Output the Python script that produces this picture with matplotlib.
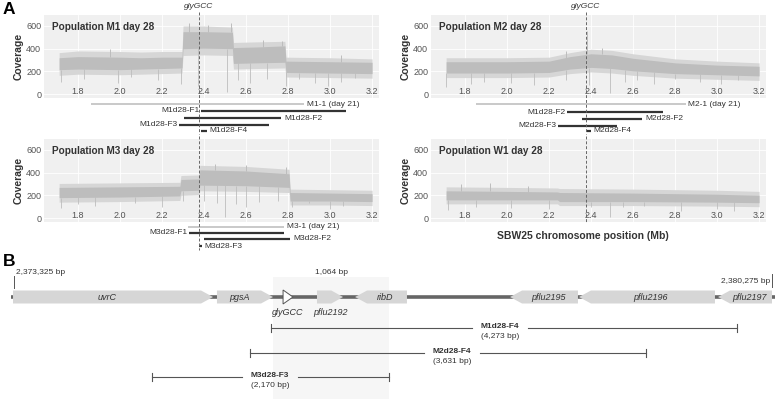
import matplotlib.pyplot as plt
import matplotlib.transforms as mtransforms
import numpy as np
from matplotlib.patches import Polygon, Rectangle

plt.rcParams["font.family"] = ["Liberation Sans", "DejaVu Sans"]

# ---- panel A: coverage (Mb, coverage) ----
# core = dense part of the trace, out = fuzzy fringe
m1_pos = [1.71, 1.80, 2.00, 2.10, 2.20, 2.295, 2.30, 2.40, 2.535, 2.54, 2.65, 2.785, 2.79, 3.00, 3.20]
m1_lo = [215, 220, 215, 220, 225, 230, 400, 405, 400, 270, 275, 280, 190, 185, 180]
m1_hi = [320, 330, 325, 320, 325, 325, 550, 550, 545, 410, 415, 425, 290, 285, 280]
m1_out_lo = [165, 175, 170, 175, 180, 185, 340, 345, 340, 220, 225, 230, 150, 145, 140]
m1_out_hi = [365, 380, 375, 370, 375, 375, 600, 600, 590, 455, 460, 465, 325, 320, 310]
m1_dips = [(1.72, 110), (1.83, 130), (1.99, 95), (2.05, 150), (2.18, 120), (2.29, 90), (2.37, 70),
           (2.51, 15), (2.56, 120), (2.62, 100), (2.70, 130), (2.79, 70), (2.85, 130), (2.93, 100),
           (2.99, 70), (3.05, 110), (3.12, 140)]
m1_peaks = [(1.95, 400), (2.33, 630), (2.42, 610), (2.53, 625), (2.68, 480), (2.77, 470), (3.05, 340)]

m2_pos = [1.71, 2.00, 2.20, 2.30, 2.40, 2.50, 2.60, 2.80, 3.00, 3.20]
m2_lo = [185, 185, 190, 220, 235, 225, 205, 180, 170, 160]
m2_hi = [285, 285, 290, 330, 355, 345, 315, 275, 255, 245]
m2_out_lo = [145, 145, 150, 180, 195, 185, 165, 140, 130, 120]
m2_out_hi = [320, 320, 325, 365, 395, 385, 355, 310, 290, 275]
m2_dips = [(1.71, 60), (1.83, 90), (1.89, 110), (2.02, 100), (2.13, 80), (2.28, 120), (2.39, 80),
           (2.49, 10), (2.56, 110), (2.62, 120), (2.70, 90), (2.80, 130), (2.92, 110), (3.02, 90),
           (3.10, 120)]
m2_peaks = [(2.38, 560), (2.45, 410), (2.28, 380)]

m3_pos = [1.71, 2.00, 2.285, 2.29, 2.375, 2.38, 2.60, 2.805, 2.81, 3.00, 3.20]
m3_lo = [180, 185, 195, 240, 245, 290, 285, 270, 150, 150, 145]
m3_hi = [270, 275, 280, 340, 345, 425, 415, 390, 225, 220, 215]
m3_out_lo = [140, 145, 155, 200, 205, 240, 235, 225, 115, 115, 110]
m3_out_hi = [305, 310, 315, 375, 380, 465, 455, 430, 255, 250, 245]
m3_dips = [(1.72, 90), (1.80, 120), (1.88, 110), (2.07, 130), (2.20, 100), (2.30, 150), (2.40, 150),
           (2.46, 130), (2.50, 5), (2.55, 120), (2.60, 100), (2.66, 140), (2.75, 150), (2.82, 100),
           (2.90, 130), (3.00, 80), (3.06, 110)]
m3_peaks = [(2.45, 480), (2.60, 470), (2.79, 450)]

w1_pos = [1.71, 2.00, 2.24, 2.25, 2.60, 3.00, 3.20]
w1_lo = [160, 160, 160, 145, 145, 140, 135]
w1_hi = [240, 235, 230, 225, 220, 210, 200]
w1_out_lo = [125, 125, 125, 110, 110, 105, 100]
w1_out_hi = [275, 270, 265, 260, 255, 245, 235]
w1_dips = [(1.72, 70), (1.85, 100), (2.02, 90), (2.20, 80), (2.40, 100), (2.49, 10), (2.55, 100),
           (2.65, 110), (2.83, 60), (3.00, 80), (3.08, 60)]
w1_peaks = [(1.78, 300), (1.92, 310), (2.10, 285)]

x_ticks = [1.8, 2.0, 2.2, 2.4, 2.6, 2.8, 3.0, 3.2]
x_tick_labels = ["1.8", "2.0", "2.2", "2.4", "2.6", "2.8", "3.0", "3.2"]
y_ticks = [0, 200, 400, 600]
glygcc_mb = 2.3758

# fragment bars under each panel: (label, start Mb, end Mb, label side, day-21 bar?)
m1_bars = [("M1-1 (day 21)", 1.862, 2.876, "right", True),
           ("M1d28-F1", 2.386, 3.076, "left", False),
           ("M1d28-F2", 2.305, 2.767, "right", False),
           ("M1d28-F3", 2.281, 2.710, "left", False),
           ("M1d28-F4", 2.386, 2.414, "right", False)]
m2_bars = [("M2-1 (day 21)", 1.853, 2.850, "right", True),
           ("M1d28-F2", 2.284, 2.744, "left", False),
           ("M2d28-F2", 2.356, 2.644, "right", False),
           ("M2d28-F3", 2.241, 2.524, "left", False),
           ("M2d28-F4", 2.380, 2.400, "right", False)]
m3_bars = [("M3-1 (day 21)", 2.324, 2.781, "right", True),
           ("M3d28-F1", 2.330, 2.780, "left", False),
           ("M3d28-F2", 2.400, 2.810, "right", False),
           ("M3d28-F3", 2.376, 2.390, "right", False)]

# ---- panel B: gene map (bp) ----
genes = ["uvrC", "pgsA", "pflu2192", "ribD", "pflu2195", "pflu2196", "pflu2197"]
gene_start = [2373316, 2375186, 2376103, 2376452, 2377873, 2378505, 2379780]
gene_end = [2375150, 2375700, 2376342, 2376928, 2378496, 2379752, 2380275]
gene_strand = [1, 1, 1, -1, -1, -1, -1]
trna_start, trna_end = 2375792, 2375883
region_start, region_end = 2373325, 2380275
box_start, box_end = 2375700, 2376764

frag_names = ["M1d28-F4", "M2d28-F4", "M3d28-F3"]
frag_sizes = ["(4,273 bp)", "(3,631 bp)", "(2,170 bp)"]
frag_start = [2375680, 2375490, 2374590]
frag_end = [2379953, 2379121, 2376760]

# ---- layout ----
W, H = 779, 399
TXT = "#333333"
COV = "#bdbdbd"
COV_LIGHT = "#d6d6d6"
BG = "#f0f0f0"

fig = plt.figure(figsize=(W / 100, H / 100), dpi=100)


def px_axes(left, top, right, bottom):
    return fig.add_axes([left / W, 1 - bottom / H, (right - left) / W, (bottom - top) / H])


def fy(py):
    return 1 - py / H


def coverage_panel(left, top, title, pos, lo, hi, out_lo, out_hi, dips, peaks, bars, bar_rows,
                   dash_to, gly_label):
    ax = px_axes(left, top, left + 335, top + 83)
    ax.set_facecolor(BG)
    ax.set_xlim(1.638, 3.233)
    ax.set_ylim(-35, 697)
    for s in ax.spines.values():
        s.set_visible(False)
    ax.set_xticks(x_ticks, x_tick_labels)
    ax.set_yticks(y_ticks)
    ax.grid(True, color="white", lw=0.6)
    ax.set_axisbelow(True)
    ax.tick_params(axis="x", length=0, pad=-8, labelsize=6.5, labelcolor="#555555")
    ax.tick_params(axis="y", length=0, pad=2, labelsize=6.5, labelcolor="#555555")
    ax.set_ylabel("Coverage", fontsize=7.5, fontweight="bold", color=TXT, labelpad=2)

    ax.fill_between(pos, out_lo, out_hi, color=COV_LIGHT, lw=0, zorder=2)
    ax.fill_between(pos, lo, hi, color=COV, lw=0, zorder=2)
    for x, v in dips:
        ax.vlines(x, v, np.interp(x, pos, lo), color=COV, lw=0.6, zorder=2)
    for x, v in peaks:
        ax.vlines(x, np.interp(x, pos, hi), v, color=COV, lw=0.7, zorder=2)

    ax.text(0.024, 0.86, title, transform=ax.transAxes, fontsize=7.2, fontweight="bold",
            color=TXT, va="center")

    tr = mtransforms.blended_transform_factory(ax.transData, fig.transFigure)
    ax.plot([glygcc_mb, glygcc_mb], [fy(top - 3), fy(dash_to)], transform=tr, clip_on=False,
            color="#666666", lw=0.7, ls=(0, (3, 2)), zorder=5)
    if gly_label:
        ax.text(glygcc_mb, fy(top - 8), "glyGCC", transform=tr, ha="center", va="center",
                fontsize=6, style="italic", color=TXT)

    for (label, start, end, side, early), py in zip(bars, bar_rows):
        color = "#bbbbbb" if early else "#333333"
        lw = 1.1 if early else 1.6
        ax.plot([start, end], [fy(py), fy(py)], transform=tr, clip_on=False,
                color=color, lw=lw, solid_capstyle="butt")
        if side == "right":
            ax.annotate(label, (end, fy(py)), xycoords=tr, xytext=(2, 0),
                        textcoords="offset points", ha="left", va="center",
                        fontsize=6, color=TXT)
        else:
            ax.annotate(label, (start, fy(py)), xycoords=tr, xytext=(-1, 0),
                        textcoords="offset points", ha="right", va="center",
                        fontsize=6, color=TXT)
    return ax


coverage_panel(44, 15, "Population M1 day 28", m1_pos, m1_lo, m1_hi, m1_out_lo, m1_out_hi,
               m1_dips, m1_peaks, m1_bars, [104, 111, 118, 125, 131], 134, True)
coverage_panel(431, 15, "Population M2 day 28", m2_pos, m2_lo, m2_hi, m2_out_lo, m2_out_hi,
               m2_dips, m2_peaks, m2_bars, [104, 112, 119, 125.5, 131], 134, True)
coverage_panel(44, 139, "Population M3 day 28", m3_pos, m3_lo, m3_hi, m3_out_lo, m3_out_hi,
               m3_dips, m3_peaks, m3_bars, [227, 233, 239, 246], 250, False)
coverage_panel(431, 139, "Population W1 day 28", w1_pos, w1_lo, w1_hi, w1_out_lo, w1_out_hi,
               w1_dips, w1_peaks, [], [], 222, False)

fig.text(583 / W, fy(236), "SBW25 chromosome position (Mb)", ha="center", va="center",
         fontsize=7.5, fontweight="bold", color=TXT)
fig.text(3 / W, fy(9), "A", fontsize=12.5, fontweight="bold", va="center", ha="left")
fig.text(3 / W, fy(262), "B", fontsize=12.5, fontweight="bold", va="center", ha="left")

# ---- panel B ----
bp_per_px = (region_end - region_start) / (772 - 14)
axb = px_axes(0, 255, W, H)
axb.set_xlim(region_start - 14 * bp_per_px, region_start + (W - 14) * bp_per_px)
axb.set_ylim(H, 255)
axb.axis("off")

axb.add_patch(Rectangle((box_start, 277), box_end - box_start, H - 277,
                        facecolor="#f6f6f6", edgecolor="none", zorder=0))
axb.text((box_start + box_end) / 2, 272, "1,064 bp", ha="center", va="center",
         fontsize=6, color=TXT)

gy, gh = 297, 13
head = 110
axb.plot([region_start - 30, region_end + 30], [gy, gy], color="#666666", lw=2.6,
         zorder=1, solid_capstyle="butt")
for name, s, e, strand in zip(genes, gene_start, gene_end, gene_strand):
    hd = min(head, (e - s) * 0.45)
    if strand > 0:
        pts = [(s, gy - gh / 2), (e - hd, gy - gh / 2), (e, gy), (e - hd, gy + gh / 2), (s, gy + gh / 2)]
    else:
        pts = [(e, gy - gh / 2), (s + hd, gy - gh / 2), (s, gy), (s + hd, gy + gh / 2), (e, gy + gh / 2)]
    axb.add_patch(Polygon(pts, closed=True, facecolor="#d6d6d6", edgecolor="none", zorder=2))
    if name == "pflu2192":
        axb.text((s + e) / 2, 312, name, ha="center", va="center", fontsize=6.5,
                 style="italic", color=TXT)
    else:
        axb.text((s + e) / 2 + (hd / 3 if strand < 0 else -hd / 2), gy, name, ha="center",
                 va="center", fontsize=6.5, style="italic", color=TXT, zorder=3)

axb.add_patch(Polygon([(trna_start, gy - 7), (trna_end, gy), (trna_start, gy + 7)], closed=True,
                      facecolor="white", edgecolor="#555555", lw=0.7, zorder=3))
axb.text((trna_start + trna_end) / 2, 312, "glyGCC", ha="center", va="center", fontsize=6.5,
         style="italic", color=TXT)

axb.plot([region_start, region_start], [276, 288], color="#555555", lw=0.7)
axb.text(region_start + 2 * bp_per_px, 272, "2,373,325 bp", ha="left", va="center",
         fontsize=6, color=TXT)
axb.plot([region_end, region_end], [274, 287], color="#555555", lw=0.7)
axb.text(region_end - 2 * bp_per_px, 281, "2,380,275 bp", ha="right", va="center",
         fontsize=6, color=TXT)

frag_rows = [328, 353, 377]
label_px = [500, 452, 270]
for name, size, s, e, py, lx in zip(frag_names, frag_sizes, frag_start, frag_end, frag_rows, label_px):
    xc = region_start + (lx - 14) * bp_per_px
    gap = 28 * bp_per_px
    axb.plot([s, xc - gap], [py, py], color="#555555", lw=0.8)
    axb.plot([xc + gap, e], [py, py], color="#555555", lw=0.8)
    axb.plot([s, s], [py - 4, py + 4], color="#555555", lw=0.8)
    axb.plot([e, e], [py - 4, py + 4], color="#555555", lw=0.8)
    axb.text(xc, py - 2, name, ha="center", va="center", fontsize=6, fontweight="bold", color=TXT)
    axb.text(xc, py + 8, size, ha="center", va="center", fontsize=6, color=TXT)

fig.savefig("out.png", dpi=100)
